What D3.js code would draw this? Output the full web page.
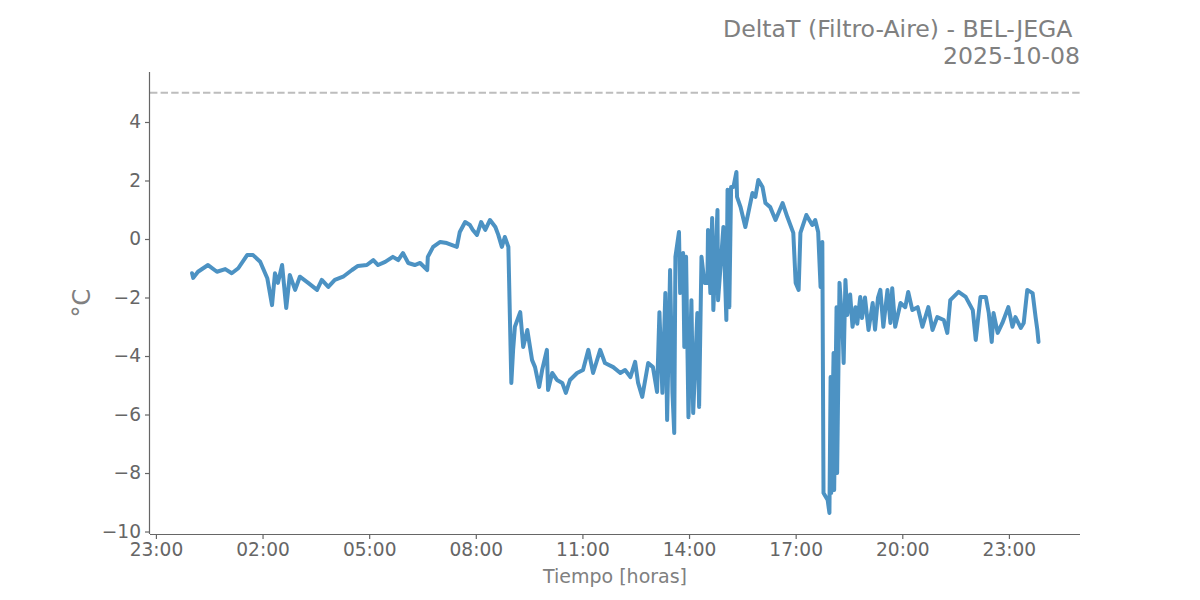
<!DOCTYPE html>
<html>
<head>
<meta charset="utf-8">
<script src="https://cdn.jsdelivr.net/npm/d3@7"></script>
<style>
  html, body { margin: 0; padding: 0; background: #fff; }
  svg { display: block; font-family: "DejaVu Sans", sans-serif; }
</style>
</head>
<body>
<svg id="chart" width="1200" height="600"></svg>
<script>
const chartTitle = "DeltaT (Filtro-Aire) - BEL-JEGA ";
const chartDate = "2025-10-08";
const xLabel = "Tiempo [horas]";
const yLabel = "°C";
const limitValue = 5;

const times = [
  "00:01","00:03","00:11","00:28","00:43","00:57","01:08","01:19","01:34","01:44",
  "01:56","02:08","02:16","02:21","02:26","02:33","02:40","02:46","02:55","03:03",
  "03:17","03:32","03:40","03:51","04:02","04:16","04:31","04:41","04:56","05:07",
  "05:15","05:27","05:40","05:49","05:57","06:06","06:17","06:26","06:38","06:39",
  "06:48","07:00","07:11","07:28","07:33","07:42","07:50","07:55","08:02","08:09",
  "08:16","08:24","08:33","08:38","08:44","08:49","08:55","09:00","09:03","09:06",
  "09:15","09:20","09:27","09:35","09:40","09:47","09:52","10:00","10:02","10:09",
  "10:17","10:26","10:32","10:39","10:51","11:01","11:10","11:18","11:30","11:38",
  "11:52","12:04","12:12","12:21","12:29","12:34","12:41","12:51","12:59","13:06",
  "13:10","13:15","13:20","13:23","13:28","13:32","13:35","13:37","13:43","13:45",
  "13:50","13:52","13:55","13:59","14:04","14:07","14:14","14:17","14:21","14:26",
  "14:31","14:32","14:36","14:39","14:41","14:48","14:49","14:58","15:03","15:05",
  "15:08","15:11","15:15","15:20","15:21","15:27","15:35","15:40","15:47","15:52",
  "15:57","16:04","16:09","16:17","16:26","16:38","16:46","16:56","17:00","17:05",
  "17:08","17:18","17:28","17:33","17:38","17:42","17:45","17:47","17:54","17:57",
  "17:59","18:00","18:04","18:05","18:09","18:10","18:14","18:19","18:21","18:24",
  "18:27","18:32","18:36","18:41","18:44","18:49","18:52","18:57","19:03","19:10",
  "19:14","19:19","19:23","19:28","19:35",
  "19:40","19:43","19:48","19:57","20:05","20:10","20:17","20:26","20:34","20:44",
  "20:51","20:59","21:10","21:16","21:21","21:35","21:47","21:59","22:04","22:12",
  "22:21","22:26","22:31","22:34","22:41","22:49","22:59","23:06","23:11","23:20",
  "23:25","23:31","23:40","23:45","23:48","23:50"
];

const deltaT = [
  -1.17,-1.33,-1.12,-0.89,-1.12,-1.03,-1.17,-1.00,-0.55,-0.55,
  -0.78,-1.34,-2.26,-1.17,-1.50,-0.89,-2.36,-1.23,-1.74,-1.29,
  -1.50,-1.74,-1.40,-1.64,-1.40,-1.29,-1.06,-0.92,-0.89,-0.72,
  -0.89,-0.78,-0.61,-0.72,-0.48,-0.82,-0.89,-0.82,-1.06,-0.61,
  -0.27,-0.10,-0.14,-0.27,0.24,0.58,0.48,0.31,0.14,0.58,
  0.31,0.65,0.41,0.14,-0.27,0.07,-0.27,-4.92,-3.79,-3.00,
  -2.50,-3.69,-3.11,-4.14,-4.38,-5.06,-4.48,-3.79,-5.16,-4.58,
  -4.82,-4.92,-5.26,-4.82,-4.58,-4.48,-3.79,-4.58,-3.79,-4.24,
  -4.38,-4.58,-4.48,-4.72,-4.20,-4.92,-5.40,-4.24,-4.38,-5.23,
  -2.50,-5.26,-1.85,-6.19,-1.06,-5.26,-6.63,-0.61,0.24,-1.85,
  -0.48,-3.69,-0.61,-6.09,-2.09,-5.95,-2.53,-5.74,-0.61,-1.50,
  -1.50,0.31,-1.85,0.72,-2.43,0.99,-2.09,0.41,-2.77,1.68,
  -2.33,1.78,1.78,2.29,1.44,1.09,0.41,0.89,1.57,1.44,
  2.02,1.78,1.23,1.09,0.65,1.23,0.75,0.21,-1.50,-1.74,
  0.21,0.82,0.48,0.65,0.24,-1.64,-0.10,-8.68,-8.92,-9.37,
  -4.72,-8.68,-3.90,-8.58,-2.33,-8.00,-1.50,-3.00,-4.24,-1.40,
  -2.60,-1.90,-3.00,-2.33,-2.90,-1.98,-2.70,-2.00,-3.11,-2.19,
  -3.10,-2.00,-1.74,-3.00,-1.74,
  -2.87,-1.68,-3.00,-2.19,-2.33,-1.81,-2.43,-2.33,-3.00,-2.33,
  -3.11,-2.67,-2.77,-3.21,-2.09,-1.81,-1.98,-2.43,-3.45,-1.98,
  -1.98,-2.53,-3.52,-2.53,-3.21,-2.87,-2.33,-3.00,-2.67,-3.04,
  -2.87,-1.74,-1.85,-2.67,-3.11,-3.52
];

const xTickLabels = ["23:00","02:00","05:00","08:00","11:00","14:00","17:00","20:00","23:00"];
const xTickTimes = ["2025-10-07 23:00","2025-10-08 02:00","2025-10-08 05:00","2025-10-08 08:00",
  "2025-10-08 11:00","2025-10-08 14:00","2025-10-08 17:00","2025-10-08 20:00","2025-10-08 23:00"];
const yTicks = [-10,-8,-6,-4,-2,0,2,4];

const parseT = d3.timeParse("%Y-%m-%d %H:%M");
const data = times.map((t, i) => ({ t: parseT(chartDate + " " + t), v: deltaT[i] }));

const svg = d3.select("#chart");
const mLeft = 150, mRight = 1080, mTop = 72, mBottom = 534;

const x = d3.scaleTime()
  .domain([parseT("2025-10-07 22:50"), parseT("2025-10-09 01:00")])
  .range([mLeft, mRight]);
const y = d3.scaleLinear()
  .domain([-10.085, 5.709])
  .range([mBottom, mTop]);

const axisColor = "#666";

// Dashed limit line
svg.append("line")
  .attr("x1", mLeft).attr("x2", mRight)
  .attr("y1", y(limitValue)).attr("y2", y(limitValue))
  .attr("stroke", "#bdbdbd").attr("stroke-width", 2)
  .attr("stroke-dasharray", "7.4 3.2");

// Data line
const line = d3.line().x(d => x(d.t)).y(d => y(d.v));
svg.append("path")
  .datum(data)
  .attr("d", line)
  .attr("fill", "none")
  .attr("stroke", "#1f77b4")
  .attr("stroke-opacity", 0.8)
  .attr("stroke-width", 4)
  .attr("stroke-linejoin", "round")
  .attr("stroke-linecap", "round");

// X axis
const xAxis = d3.axisBottom(x)
  .tickValues(xTickTimes.map(parseT))
  .tickFormat((d, i) => xTickLabels[i])
  .tickSize(5).tickPadding(4);
const gx = svg.append("g").attr("transform", `translate(0,${mBottom})`).call(xAxis);
gx.select(".domain").attr("d", `M${mLeft},0.5H${mRight}`).attr("stroke", axisColor).attr("stroke-width", 1.2);
gx.selectAll(".tick line").attr("stroke", axisColor).attr("stroke-width", 1.2);
gx.selectAll(".tick text").attr("fill", "#666").attr("font-size", "18.6px")
  .attr("font-family", "DejaVu Sans");

// Y axis
const yAxis = d3.axisLeft(y)
  .tickValues(yTicks)
  .tickFormat(d => d < 0 ? "\u2212" + Math.abs(d) : String(d))
  .tickSize(5).tickPadding(4);
const gy = svg.append("g").attr("transform", `translate(${mLeft},0)`).call(yAxis);
gy.select(".domain").attr("d", `M-0.5,${mTop}V${mBottom}`).attr("stroke", axisColor).attr("stroke-width", 1.2);
gy.selectAll(".tick line").attr("stroke", axisColor).attr("stroke-width", 1.2);
gy.selectAll(".tick text").attr("fill", "#666").attr("font-size", "18.6px")
  .attr("font-family", "DejaVu Sans");

// Axis labels
svg.append("text")
  .attr("x", (mLeft + mRight) / 2).attr("y", 583)
  .attr("text-anchor", "middle")
  .attr("fill", "#808080").attr("font-size", "19px")
  .text(xLabel);

svg.append("text")
  .attr("transform", `translate(90,${(mTop + mBottom) / 2}) rotate(-90)`)
  .attr("text-anchor", "middle")
  .attr("fill", "#808080").attr("font-size", "24px")
  .text(yLabel);

// Title
svg.append("text")
  .attr("x", mRight).attr("y", 36.5)
  .attr("text-anchor", "end")
  .attr("fill", "#808080").attr("font-size", "23.6px")
  .style("white-space", "pre")
  .text(chartTitle);
svg.append("text")
  .attr("x", mRight).attr("y", 64)
  .attr("text-anchor", "end")
  .attr("fill", "#808080").attr("font-size", "23.6px")
  .text(chartDate);
</script>
</body>
</html>
